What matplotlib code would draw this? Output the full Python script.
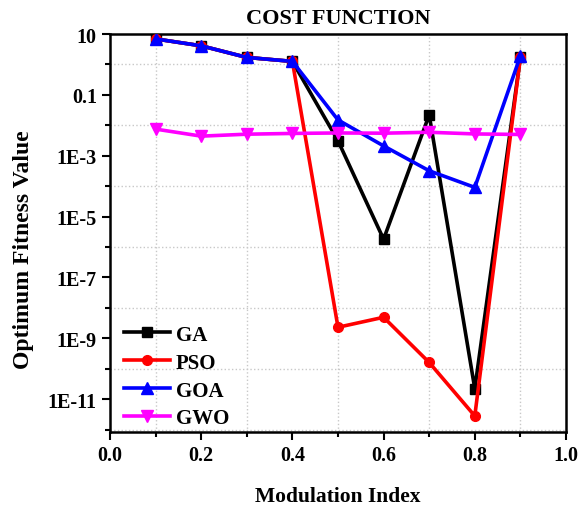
import matplotlib
matplotlib.use('Agg')
import matplotlib.pyplot as plt
import numpy as np
from matplotlib.ticker import FixedLocator, NullFormatter

# modulation index and best fitness per algorithm
mod_index = [0.1, 0.2, 0.3, 0.4, 0.5, 0.6, 0.7, 0.8, 0.9]
ga = [6.9, 4.1, 1.7, 1.26, 3.1e-3, 1.8e-6, 2.2e-2, 2.2e-11, 1.7]
pso = [6.9, 4.1, 1.7, 1.26, 2.3e-9, 4.9e-9, 1.6e-10, 2.8e-12, 1.7]
goa = [6.9, 4.1, 1.7, 1.26, 1.5e-2, 2.1e-3, 3.2e-4, 9.1e-5, 1.9]
gwo = [7.5e-3, 4.4e-3, 5.1e-3, 5.4e-3, 5.6e-3, 5.5e-3, 5.9e-3, 5.2e-3, 5.0e-3]

y_major = [10, 0.1, 1e-3, 1e-5, 1e-7, 1e-9, 1e-11]
y_labels = ['10', '0.1', '1E-3', '1E-5', '1E-7', '1E-9', '1E-11']
y_minor = [1, 1e-2, 1e-4, 1e-6, 1e-8, 1e-10, 1e-12]

plt.rcParams['font.family'] = ['Liberation Serif', 'DejaVu Serif']
plt.rcParams['font.weight'] = 'bold'

fig = plt.figure(figsize=(5.87, 5.06), dpi=100)
ax = fig.add_axes([0.1874, 0.1443, 0.7768, 0.7865])

lw = 2.6
ax.plot(mod_index, ga, color='black', marker='s', ms=6.5, lw=lw, label='GA', zorder=3)
ax.plot(mod_index, pso, color='red', marker='o', ms=7, lw=lw, label='PSO', zorder=4)
ax.plot(mod_index, goa, color='blue', marker='^', ms=8, lw=lw, label='GOA', zorder=5)
ax.plot(mod_index, gwo, color='magenta', marker='v', ms=8, lw=lw, label='GWO', zorder=6)

ax.set_yscale('log')
ax.set_xlim(0, 1.0)
ax.set_ylim(10 ** -12.08, 10)

ax.set_xticks(np.arange(0, 1.01, 0.2))
ax.set_xticks(np.arange(0.1, 1.0, 0.2), minor=True)
ax.xaxis.set_major_formatter(plt.FuncFormatter(lambda v, p: f'{v:.1f}'))
ax.yaxis.set_major_locator(FixedLocator(y_major))
ax.set_yticklabels(y_labels)
ax.yaxis.set_minor_locator(FixedLocator(y_minor))
ax.yaxis.set_minor_formatter(NullFormatter())

ax.tick_params(which='major', direction='out', length=6, width=1.5, labelsize=14.5)
ax.tick_params(which='minor', direction='out', length=3.5, width=1.5)
for s in ax.spines.values():
    s.set_linewidth(1.8)

ax.grid(which='minor', color='#c8c8c8', linestyle=':', linewidth=1)
ax.grid(which='major', visible=False)

ax.set_title('COST FUNCTION', fontsize=16, fontweight='bold', pad=8)
ax.set_xlabel('Modulation Index', fontsize=15.5, fontweight='bold', labelpad=15)
ax.set_ylabel('Optimum Fitness Value', fontsize=17, fontweight='bold')
ax.yaxis.set_label_coords(-0.167, 0.46)

ax.legend(loc='lower left', bbox_to_anchor=(0.012, -0.012), frameon=False, handlelength=2.2,
          borderaxespad=0.0, labelspacing=0.38, handletextpad=0.3,
          prop={'weight': 'bold', 'size': 15})

fig.savefig('out.png', dpi=100)
